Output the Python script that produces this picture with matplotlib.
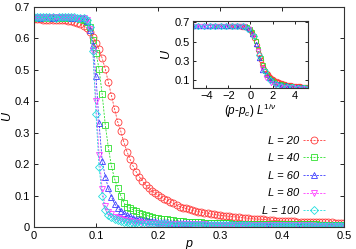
import numpy as np
import matplotlib
matplotlib.use("Agg")
import matplotlib.pyplot as plt
from matplotlib import ticker

plt.rcParams['font.family'] = ['Liberation Sans', 'DejaVu Sans']
plt.rcParams['mathtext.fontset'] = 'custom'
plt.rcParams['mathtext.it'] = 'Liberation Sans:italic'
plt.rcParams['mathtext.rm'] = 'Liberation Sans'

# sampled probabilities (step 0.005)
p = np.round(np.arange(0, 0.5001, 0.005), 3)

sizes = [20, 40, 60, 80, 100]

U_20 = [0.661, 0.661, 0.661, 0.660, 0.660, 0.660, 0.660, 0.659, 0.659, 0.659,
        0.658, 0.657, 0.655, 0.653, 0.650, 0.646, 0.641, 0.633, 0.622, 0.606,
        0.585, 0.565, 0.537, 0.503, 0.460, 0.418, 0.375, 0.335, 0.305, 0.270,
        0.240, 0.215, 0.193, 0.175, 0.160, 0.146, 0.134, 0.124, 0.115, 0.108,
        0.102, 0.095, 0.090, 0.085, 0.080, 0.075, 0.070, 0.065, 0.062, 0.059,
        0.056, 0.053, 0.051, 0.049, 0.047, 0.045, 0.043, 0.042, 0.040, 0.039,
        0.037, 0.036, 0.035, 0.034, 0.033, 0.032, 0.031, 0.030, 0.029, 0.028,
        0.027, 0.026, 0.025, 0.025, 0.024, 0.023, 0.022, 0.021, 0.020, 0.020,
        0.019, 0.019, 0.018, 0.018, 0.018, 0.017, 0.017, 0.017, 0.016, 0.016,
        0.016, 0.016, 0.015, 0.015, 0.015, 0.015, 0.015, 0.014, 0.014, 0.014,
        0.014]

U_40 = [0.666, 0.667, 0.666, 0.666, 0.667, 0.666, 0.666, 0.667, 0.666, 0.666,
        0.666, 0.666, 0.665, 0.665, 0.664, 0.662, 0.660, 0.652, 0.636, 0.595,
        0.555, 0.502, 0.422, 0.325, 0.252, 0.193, 0.153, 0.125, 0.100, 0.077,
        0.063, 0.060, 0.055, 0.050, 0.045, 0.041, 0.038, 0.035, 0.033, 0.030,
        0.028, 0.026, 0.025, 0.024, 0.022, 0.021, 0.020, 0.019, 0.018, 0.017,
        0.017, 0.016, 0.016, 0.015, 0.015, 0.014, 0.014, 0.013, 0.013, 0.013,
        0.012, 0.012, 0.012, 0.012, 0.011, 0.011, 0.011, 0.011, 0.011, 0.010,
        0.010, 0.010, 0.010, 0.010, 0.010, 0.009, 0.009, 0.009, 0.009, 0.009,
        0.009, 0.009, 0.009, 0.008, 0.008, 0.008, 0.008, 0.008, 0.008, 0.008,
        0.008, 0.008, 0.007, 0.007, 0.007, 0.007, 0.007, 0.007, 0.007, 0.007,
        0.007]

U_60 = [0.667, 0.667, 0.666, 0.667, 0.667, 0.667, 0.666, 0.667, 0.667, 0.667,
        0.667, 0.667, 0.666, 0.666, 0.666, 0.665, 0.664, 0.656, 0.627, 0.580,
        0.480, 0.330, 0.210, 0.160, 0.123, 0.096, 0.074, 0.060, 0.051, 0.044,
        0.037, 0.034, 0.030, 0.027, 0.025, 0.023, 0.021, 0.020, 0.019, 0.018,
        0.017, 0.016, 0.015, 0.015, 0.014, 0.014, 0.013, 0.013, 0.012, 0.012,
        0.012, 0.011, 0.011, 0.011, 0.010, 0.010, 0.010, 0.010, 0.009, 0.009,
        0.009, 0.009, 0.009, 0.008, 0.008, 0.008, 0.008, 0.008, 0.008, 0.007,
        0.007, 0.007, 0.007, 0.007, 0.007, 0.007, 0.007, 0.007, 0.006, 0.006,
        0.006, 0.006, 0.006, 0.006, 0.006, 0.006, 0.006, 0.006, 0.006, 0.006,
        0.006, 0.006, 0.006, 0.005, 0.005, 0.005, 0.005, 0.005, 0.005, 0.005,
        0.005]

U_80 = [0.667, 0.667, 0.667, 0.667, 0.666, 0.667, 0.667, 0.667, 0.667, 0.667,
        0.667, 0.667, 0.667, 0.666, 0.666, 0.666, 0.665, 0.658, 0.630, 0.560,
        0.400, 0.230, 0.120, 0.068, 0.048, 0.040, 0.033, 0.028, 0.025, 0.022,
        0.020, 0.019, 0.017, 0.016, 0.015, 0.014, 0.013, 0.013, 0.012, 0.012,
        0.011, 0.011, 0.010, 0.010, 0.010, 0.009, 0.009, 0.009, 0.009, 0.008,
        0.008, 0.008, 0.008, 0.008, 0.008, 0.008, 0.007, 0.007, 0.007, 0.007,
        0.007, 0.007, 0.007, 0.007, 0.007, 0.006, 0.006, 0.006, 0.006, 0.006,
        0.006, 0.006, 0.006, 0.006, 0.006, 0.006, 0.005, 0.005, 0.005, 0.005,
        0.005, 0.005, 0.005, 0.005, 0.005, 0.005, 0.005, 0.005, 0.005, 0.005,
        0.004, 0.004, 0.004, 0.004, 0.004, 0.004, 0.004, 0.004, 0.004, 0.004,
        0.004]

U_100 = [0.667, 0.667, 0.667, 0.667, 0.667, 0.667, 0.667, 0.666, 0.667, 0.667,
         0.667, 0.667, 0.667, 0.667, 0.666, 0.666, 0.665, 0.660, 0.636, 0.560,
         0.360, 0.190, 0.100, 0.055, 0.038, 0.031, 0.026, 0.022, 0.019, 0.017,
         0.015, 0.014, 0.013, 0.012, 0.011, 0.011, 0.010, 0.010, 0.009, 0.009,
         0.008, 0.008, 0.008, 0.008, 0.007, 0.007, 0.007, 0.007, 0.007, 0.007,
         0.006, 0.006, 0.006, 0.006, 0.006, 0.006, 0.006, 0.006, 0.005, 0.005,
         0.005, 0.005, 0.005, 0.005, 0.005, 0.005, 0.005, 0.005, 0.005, 0.005,
         0.004, 0.004, 0.004, 0.004, 0.004, 0.004, 0.004, 0.004, 0.004, 0.004,
         0.004, 0.004, 0.004, 0.004, 0.004, 0.004, 0.004, 0.004, 0.004, 0.004,
         0.003, 0.003, 0.003, 0.003, 0.003, 0.003, 0.003, 0.003, 0.003, 0.003,
         0.003]

U_all = [U_20, U_40, U_60, U_80, U_100]

# scaling parameters used in the inset collapse
p_c = 0.092
nu = 1.0

colors = ['#ff3b3b', '#2ee02e', '#3a3aff', '#ff3aff', '#22dede']
markers = ['o', 's', '^', 'v', 'D']
msizes = [5, 5, 5, 5, 4]

fig = plt.figure(figsize=(3.56, 2.49), dpi=100)
ax = fig.add_axes([0.0955, 0.0884, 0.8705, 0.8835])

for L, U, c, m, ms in zip(sizes, U_all, colors, markers, msizes):
    ax.plot(p, U, color=c, lw=0.6, ls=(0, (2.5, 1.5)), marker=m, ms=ms,
            mfc='none', mec=c, mew=0.6, label=f'L = {L}')

ax.set_xlim(0, 0.5)
ax.set_ylim(0, 0.7)
ax.set_xticks(np.arange(0, 0.51, 0.1))
ax.set_yticks(np.arange(0, 0.71, 0.1))
ax.xaxis.set_major_formatter(ticker.FormatStrFormatter('%g'))
ax.yaxis.set_major_formatter(ticker.FormatStrFormatter('%g'))
ax.tick_params(direction='in', length=3, width=0.6, labelsize=8,
               top=True, right=True, pad=3)
for s in ax.spines.values():
    s.set_linewidth(0.8)
    s.set_color('#333333')
ax.set_xlabel('p', fontsize=9, style='italic', labelpad=-2)
ax.set_ylabel('U', fontsize=9, style='italic', labelpad=1)

ax.legend(loc='lower right', bbox_to_anchor=(0.94, 0.05), frameon=False,
          markerfirst=False, handlelength=2.0, handletextpad=0.3,
          labelspacing=0.68, borderpad=0, borderaxespad=0,
          prop={'style': 'italic', 'size': 8})

# inset: data collapse
ins = fig.add_axes([0.542, 0.6466, 0.323, 0.269])
for L, U, c, m in zip(sizes, U_all, colors, markers):
    x = (p - p_c) * L ** (1 / nu)
    ins.plot(x, U, ls='none', marker=m, ms=3.2, mfc='none', mec=c, mew=0.6)
ins.set_xlim(-5.2, 5.2)
ins.set_ylim(0.018, 0.714)
ins.set_xticks([-4, -2, 0, 2, 4])
ins.set_yticks([0.1, 0.3, 0.5, 0.7])
ins.tick_params(direction='in', length=2.5, width=0.6, labelsize=8,
                top=True, right=True, pad=2)
for s in ins.spines.values():
    s.set_linewidth(0.8)
    s.set_color('#333333')
ins.set_xlabel(r'$(p$-$p_c)\ L^{1/\nu}$', fontsize=8.5, labelpad=1)
ins.set_ylabel('U', fontsize=9, style='italic', labelpad=2)

fig.savefig('out.png', dpi=100)
